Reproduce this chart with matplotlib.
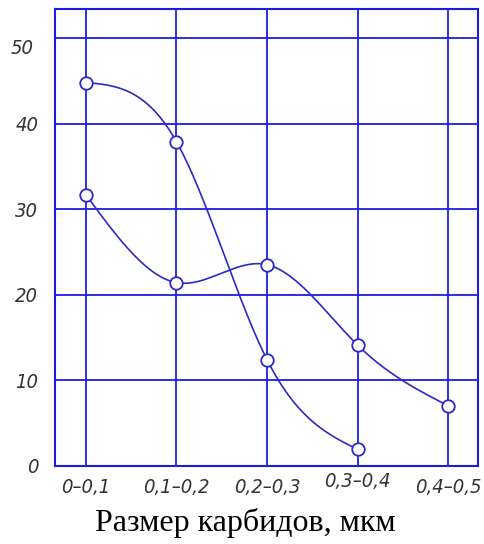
import numpy as np
import matplotlib
matplotlib.use("Agg")
import matplotlib.pyplot as plt
from matplotlib.transforms import ScaledTranslation

# ---- data ----
categories = ["0–0,1", "0,1–0,2", "0,2–0,3", "0,3–0,4", "0,4–0,5"]
series_a = [44.8, 37.9, 12.4, 1.9]          # upper curve (4 points)
series_b = [31.7, 21.4, 23.5, 14.1, 7.0]    # lower curve (5 points)
y_ticks = [0, 10, 20, 30, 40, 50]
x_label = "Размер карбидов, мкм"

GRID = "#1c1ce6"
LINE = "#2a2ac8"
TXT = "#333333"


def natural_spline(x, y, n=300):
    x = np.asarray(x, float)
    y = np.asarray(y, float)
    m = len(x)
    h = np.diff(x)
    A = np.zeros((m, m))
    r = np.zeros(m)
    A[0, 0] = 1
    A[-1, -1] = 1
    for i in range(1, m - 1):
        A[i, i - 1] = h[i - 1]
        A[i, i] = 2 * (h[i - 1] + h[i])
        A[i, i + 1] = h[i]
        r[i] = 3 * ((y[i + 1] - y[i]) / h[i] - (y[i] - y[i - 1]) / h[i - 1])
    c = np.linalg.solve(A, r)
    xs = np.linspace(x[0], x[-1], n)
    ys = np.empty_like(xs)
    for k, xv in enumerate(xs):
        i = int(np.clip(np.searchsorted(x, xv, side="right") - 1, 0, m - 2))
        d = xv - x[i]
        b = (y[i + 1] - y[i]) / h[i] - h[i] * (2 * c[i] + c[i + 1]) / 3
        dd = (c[i + 1] - c[i]) / (3 * h[i])
        ys[k] = y[i] + b * d + c[i] * d ** 2 + dd * d ** 3
    return xs, ys


fig = plt.figure(figsize=(4.85, 5.44), dpi=100)
ax = fig.add_axes([55 / 485, (544 - 465.6) / 544, (478 - 55) / 485, (465.6 - 9) / 544])

xa = np.arange(len(series_a))
xb = np.arange(len(series_b))

for xs_, ys_ in (natural_spline(xa, series_a), natural_spline(xb, series_b)):
    ax.plot(xs_, ys_, color=LINE, lw=1.2, zorder=3)
ax.plot(xa, series_a, "o", ms=9, mfc="white", mec=LINE, mew=1.3, zorder=4)
ax.plot(xb, series_b, "o", ms=9, mfc="white", mec=LINE, mew=1.3, zorder=4)

ax.set_xlim(-0.34, 4.33)
ax.set_ylim(0, 53.4)
ax.set_xticks(np.arange(len(categories)))
ax.set_xticklabels(categories)
ax.set_yticks(y_ticks)
ax.set_yticklabels([str(v) for v in y_ticks])
ax.grid(True, color=GRID, lw=1.3)
ax.set_axisbelow(True)
for s in ax.spines.values():
    s.set_color(GRID)
    s.set_linewidth(1.5)
ax.tick_params(length=0, colors=TXT, labelsize=14.5)
ax.tick_params(axis="y", pad=12)
ax.tick_params(axis="x", pad=9)
for lab in ax.get_xticklabels() + ax.get_yticklabels():
    lab.set_family("DejaVu Sans")
    lab.set_fontstretch("condensed")
    lab.set_fontstyle("italic")
    lab.set_color(TXT)

xl = ax.get_xticklabels()
xl[3].set_transform(xl[3].get_transform() + ScaledTranslation(0, 6 / 100, fig.dpi_scale_trans))
yl = ax.get_yticklabels()
yl[5].set_transform(yl[5].get_transform() + ScaledTranslation(-5 / 100, -8 / 100, fig.dpi_scale_trans))

fig.text(245 / 485, 1 - 523 / 544, x_label, ha="center", va="center",
         family="Liberation Serif", fontsize=23, color="black")

fig.savefig("out.png", dpi=100)
